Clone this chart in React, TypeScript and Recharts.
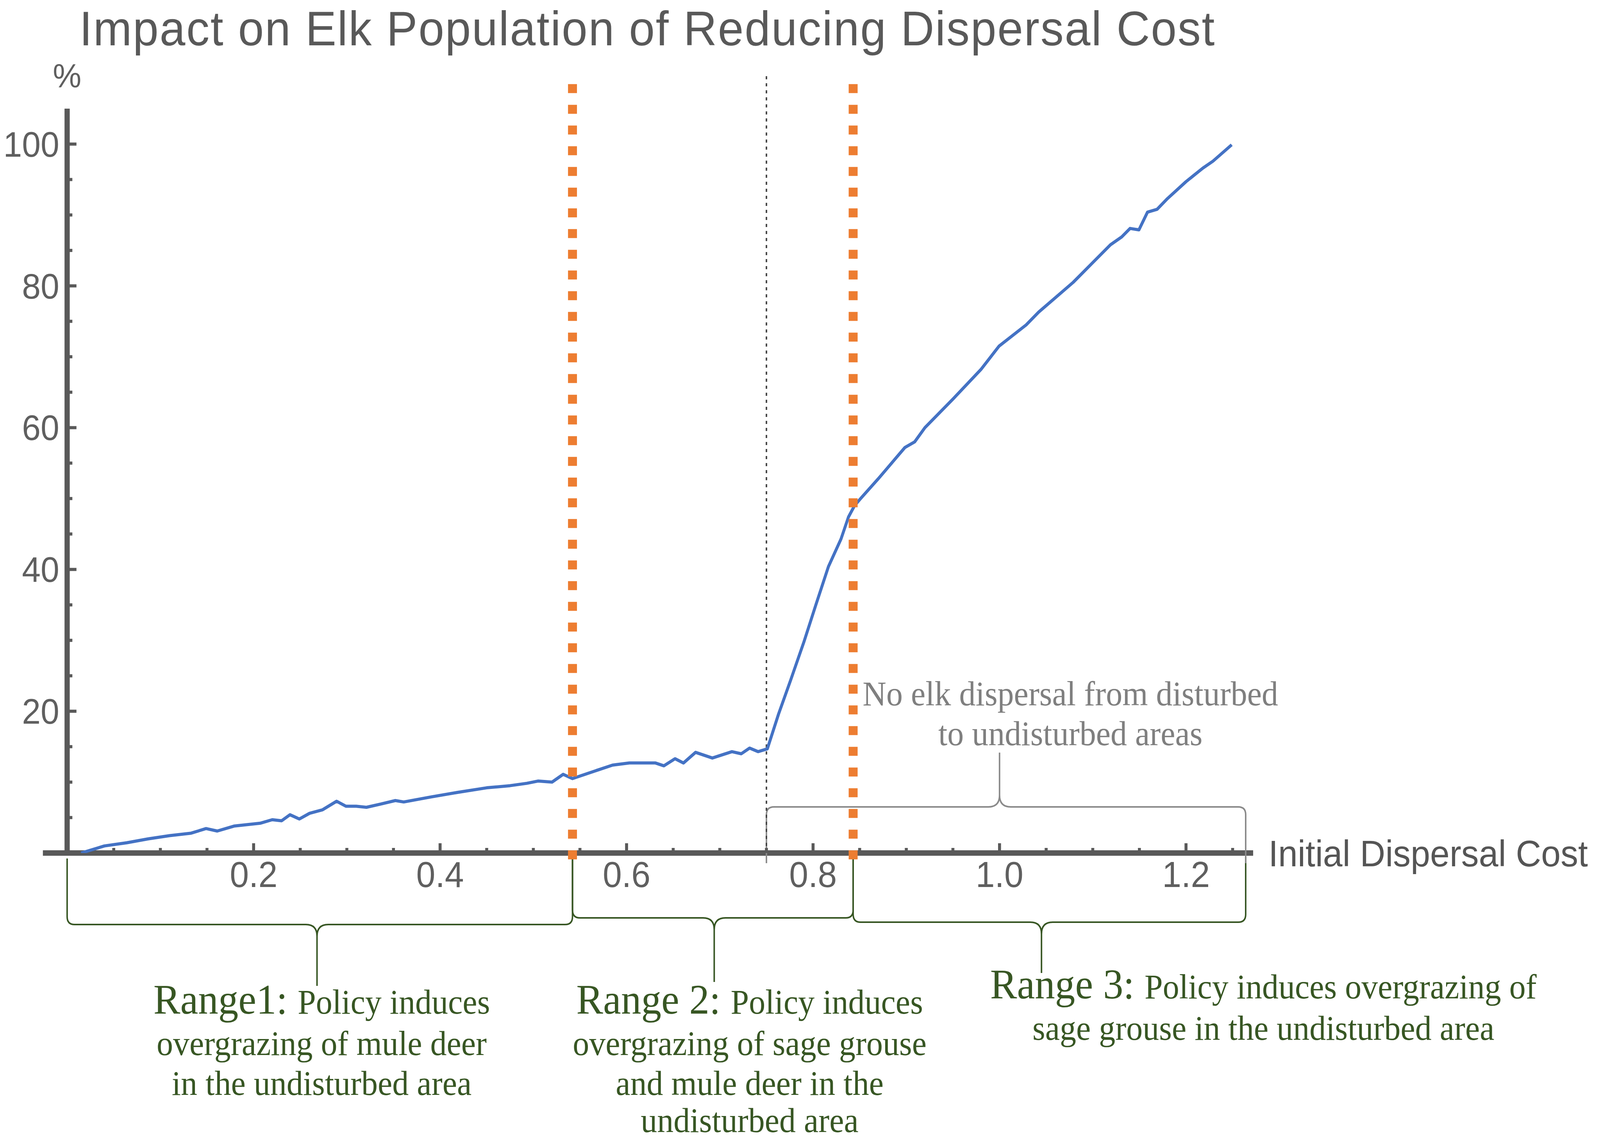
import { LineChart, Line, XAxis, YAxis, ReferenceLine } from "recharts";

// Initial dispersal cost (x) and impact on elk population in % (y)
const COST = [
  0.015, 0.04, 0.064, 0.087, 0.11, 0.133, 0.149, 0.161, 0.179, 0.207, 0.22, 0.23, 0.239, 0.249,
  0.26, 0.274, 0.289, 0.299, 0.31, 0.321, 0.336, 0.352, 0.361, 0.39, 0.419, 0.45, 0.475, 0.493,
  0.505, 0.52, 0.532, 0.542, 0.56, 0.585, 0.603, 0.631, 0.64, 0.652, 0.661, 0.674, 0.692, 0.713,
  0.723, 0.732, 0.741, 0.751, 0.763, 0.776, 0.79, 0.803, 0.8165, 0.83, 0.838, 0.8445, 0.851, 0.87,
  0.8985, 0.909, 0.92, 0.9505, 0.98, 0.9995, 1.0286, 1.042, 1.079, 1.119, 1.131, 1.14, 1.1495,
  1.1587, 1.169, 1.18, 1.2, 1.218, 1.229, 1.249,
];
const IMPACT = [
  0, 1.0, 1.45, 2.0, 2.45, 2.8, 3.45, 3.1, 3.8, 4.2, 4.7, 4.55, 5.4, 4.8,
  5.6, 6.1, 7.3, 6.6, 6.6, 6.45, 6.9, 7.4, 7.2, 7.9, 8.56, 9.2, 9.5, 9.83,
  10.15, 10.0, 11.1, 10.5, 11.3, 12.4, 12.7, 12.7, 12.3, 13.3, 12.7, 14.2, 13.4, 14.3,
  14.0, 14.8, 14.3, 14.7, 19.6, 24.4, 29.7, 35.0, 40.4, 44.3, 47.4, 49.0, 50.0, 52.8,
  57.2, 58.0, 60.0, 64.1, 68.2, 71.5, 74.5, 76.3, 80.5, 85.8, 86.9, 88.1, 87.9,
  90.4, 90.8, 92.3, 94.7, 96.6, 97.6, 99.9,
];

const X_TICKS = [
  0.05, 0.1, 0.15, 0.2, 0.25, 0.3, 0.35, 0.4, 0.45, 0.5, 0.55, 0.6, 0.65, 0.7, 0.75, 0.8, 0.85,
  0.9, 0.95, 1.0, 1.05, 1.1, 1.15, 1.2, 1.25,
];
const X_LABELS = [0.2, 0.4, 0.6, 0.8, 1.0, 1.2];
const Y_TICKS = [5, 10, 15, 20, 25, 30, 35, 40, 45, 50, 55, 60, 65, 70, 75, 80, 85, 90, 95, 100];
const Y_LABELS = [20, 40, 60, 80, 100];

// range boundaries (orange dotted lines) and the "no dispersal" zone
const POLICY_BREAKS = [0.542, 0.843];
const NO_DISPERSAL_FROM = 0.75;
const NO_DISPERSAL_TO = 1.264;
const NO_DISPERSAL_MID = 1.0;
const NO_DISPERSAL_TEXT_AT = 1.076;
const NO_DISPERSAL_LINES = ["No elk dispersal from disturbed", "to undisturbed areas"];

const RANGE_FROM = [0, 0.542, 0.843];
const RANGE_TO = [0.542, 0.843, 1.264];
const RANGE_MID = [0.268, 0.694, 1.045];
const RANGE_TEXT_AT = [0.273, 0.732, 1.283];
const RANGE_TITLES = ["Range1:", "Range 2:", "Range 3:"];
const RANGE_LINES = [
  ["Policy induces", "overgrazing of mule deer", "in the undisturbed area"],
  ["Policy induces", "overgrazing of sage grouse", "and mule deer in the", "undisturbed area"],
  ["Policy induces overgrazing of", "sage grouse in the undisturbed area"],
];

// layout (pixels relative to the x axis)
const RANGE_GEOM = [
  { top: 14, h: 183, tip: 340, lines: [411, 517, 619] },
  { top: 14, h: 166, tip: 330, lines: [411, 517, 619, 714] },
  { top: 10, h: 177, tip: 307, lines: [372, 478] },
];

// the photo is only 4096px wide, so the 4290px layout is squeezed to fit
const W = 4290;
const H = 2920;
const SHOT_W = 4096;

const AXIS = "#595959";
const SANS = "'Liberation Sans', Arial, sans-serif";
const SERIF = "'Liberation Serif', 'Times New Roman', serif";
const GREEN = "#375623";
const GRAY_TEXT = "#7f7f7f";

const data = COST.map((x, i) => ({ x, y: IMPACT[i] }));

function bracePath(xa: number, xb: number, xm: number, y0: number, top: number, h: number, tip: number) {
  const s = Math.sign(h - top);
  const r = 20;
  const c = 30;
  const yt = y0 + top;
  const yh = y0 + h;
  const yc = yh + c * s;
  const yp = y0 + tip;
  return (
    `M${xa},${yt} L${xa},${yh - r * s} Q${xa},${yh} ${xa + r},${yh} L${xm - c},${yh} Q${xm},${yh} ${xm},${yc} L${xm},${yp} ` +
    `M${xb},${yt} L${xb},${yh - r * s} Q${xb},${yh} ${xb - r},${yh} L${xm + c},${yh} Q${xm},${yh} ${xm},${yc}`
  );
}

function XTick(props: any) {
  const { x, y, payload } = props;
  const v = payload.value;
  const major = X_LABELS.some((l) => Math.abs(l - v) < 1e-6);
  return (
    <g>
      <line x1={x} x2={x} y1={y} y2={y - (major ? 25 : 13)} stroke={AXIS} strokeWidth={8} />
      {major && (
        <text x={x} y={y + 87} textAnchor="middle" fontSize={92} fill="#5f5f5f" fontFamily={SANS}>
          {v.toFixed(1)}
        </text>
      )}
    </g>
  );
}

function YTick(props: any) {
  const { x, y, payload } = props;
  const v = payload.value;
  const major = Y_LABELS.includes(v);
  return (
    <g>
      <line x1={x} x2={x + (major ? 25 : 14)} y1={y} y2={y} stroke={AXIS} strokeWidth={8} />
      {major && (
        <text x={x - 21} y={y + 32} textAnchor="end" fontSize={90} fill="#5f5f5f" fontFamily={SANS}>
          {v}
        </text>
      )}
    </g>
  );
}

function rangeShape(i: number) {
  return (p: any) => {
    const from = RANGE_FROM[i];
    const to = RANGE_TO[i];
    const px = (v: number) => p.x1 + ((v - from) / (to - from)) * (p.x2 - p.x1);
    const g = RANGE_GEOM[i];
    const tx = px(RANGE_TEXT_AT[i]);
    return (
      <g>
        <path d={bracePath(p.x1, p.x2, px(RANGE_MID[i]), p.y1, g.top, g.h, g.tip)} fill="none" stroke={GREEN} strokeWidth={4} />
        {RANGE_LINES[i].map((line, k) => (
          <text key={k} x={tx} y={p.y1 + g.lines[k]} textAnchor="middle" fontFamily={SERIF} fill={GREEN} fontSize={88}>
            {k === 0 && <tspan fontSize={108}>{RANGE_TITLES[i]} </tspan>}
            <tspan>{line}</tspan>
          </text>
        ))}
      </g>
    );
  };
}

function noDispersalShape(p: any) {
  const px = (v: number) =>
    p.x1 + ((v - NO_DISPERSAL_FROM) / (NO_DISPERSAL_TO - NO_DISPERSAL_FROM)) * (p.x2 - p.x1);
  const tx = px(NO_DISPERSAL_TEXT_AT);
  return (
    <g>
      <path d={bracePath(p.x1, p.x2, px(NO_DISPERSAL_MID), p.y1, 26, -118, -257)} fill="none" stroke="#8a8a8a" strokeWidth={4} />
      {NO_DISPERSAL_LINES.map((line, k) => (
        <text key={k} x={tx} y={p.y1 - 378 + k * 102} textAnchor="middle" fontFamily={SERIF} fill={GRAY_TEXT} fontSize={88}>
          {line}
        </text>
      ))}
    </g>
  );
}

export default function App() {
  return (
    <div style={{ position: "absolute", left: 0, top: 0, width: SHOT_W, height: H, overflow: "hidden", background: "#fff" }}>
      <div
        style={{
          position: "absolute",
          left: 0,
          top: 0,
          width: W,
          height: H,
          transform: `scaleX(${SHOT_W / W})`,
          transformOrigin: "0 0",
        }}
      >
        <div
          style={{
            position: "absolute",
            left: 213,
            top: 2,
            fontFamily: SANS,
            fontSize: 124,
            lineHeight: "normal",
            letterSpacing: 2.7,
            color: "#595959",
            whiteSpace: "nowrap",
          }}
        >
          Impact on Elk Population of Reducing Dispersal Cost
        </div>
        <LineChart width={W} height={H} data={data} margin={{ top: 278, right: 930, bottom: 637, left: 80 }}>
          <XAxis
            type="number"
            dataKey="x"
            domain={[0, 1.272]}
            ticks={X_TICKS}
            interval={0}
            axisLine={false}
            tickLine={false}
            tickSize={0}
            tickMargin={0}
            height={100}
            tick={(p: any) => <XTick {...p} />}
            allowDataOverflow
          />
          <YAxis
            type="number"
            domain={[0, 105]}
            ticks={Y_TICKS}
            interval={0}
            axisLine={false}
            tickLine={false}
            tickSize={0}
            tickMargin={0}
            width={100}
            tick={(p: any) => <YTick {...p} />}
            allowDataOverflow
          />
          {/* axis lines */}
          <ReferenceLine
            segment={[{ x: -0.026, y: 0 }, { x: 1.272, y: 0 }]}
            ifOverflow="visible"
            shape={(p: any) => (
              <g>
                <line x1={p.x1} y1={p.y1} x2={p.x2} y2={p.y2} stroke={AXIS} strokeWidth={14} />
                <text x={p.x2 + 41} y={p.y2 + 34} fontSize={94} fill="#555" fontFamily={SANS}>
                  Initial Dispersal Cost
                </text>
              </g>
            )}
          />
          <ReferenceLine
            segment={[{ x: 0, y: 0 }, { x: 0, y: 105 }]}
            ifOverflow="visible"
            shape={(p: any) => (
              <g>
                <line x1={p.x1} y1={p.y1 + 7} x2={p.x2} y2={p.y2} stroke={AXIS} strokeWidth={14} />
                <text x={p.x2} y={p.y2 - 54} textAnchor="middle" fontSize={86} fill="#5f5f5f" fontFamily={SANS}>
                  %
                </text>
              </g>
            )}
          />
          {/* braces and annotations */}
          {RANGE_FROM.map((from, i) => (
            <ReferenceLine
              key={`range-${i}`}
              segment={[{ x: from, y: 0 }, { x: RANGE_TO[i], y: 0 }]}
              ifOverflow="visible"
              shape={rangeShape(i)}
            />
          ))}
          <ReferenceLine
            segment={[{ x: NO_DISPERSAL_FROM, y: 0 }, { x: NO_DISPERSAL_TO, y: 0 }]}
            ifOverflow="visible"
            shape={noDispersalShape}
          />
          <ReferenceLine
            segment={[{ x: NO_DISPERSAL_FROM, y: 0 }, { x: NO_DISPERSAL_FROM, y: 110 }]}
            ifOverflow="visible"
            stroke="#444"
            strokeWidth={4}
            strokeDasharray="8 10"
          />
          <Line
            type="linear"
            dataKey="y"
            stroke="#4472C4"
            strokeWidth={8}
            strokeLinejoin="round"
            dot={false}
            activeDot={false}
            isAnimationActive={false}
          />
          {POLICY_BREAKS.map((b) => (
            <ReferenceLine
              key={b}
              segment={[{ x: b, y: -0.9 }, { x: b, y: 110 }]}
              ifOverflow="visible"
              stroke="#ED7D31"
              strokeWidth={24}
              strokeDasharray="23 30"
            />
          ))}
        </LineChart>
      </div>
    </div>
  );
}
